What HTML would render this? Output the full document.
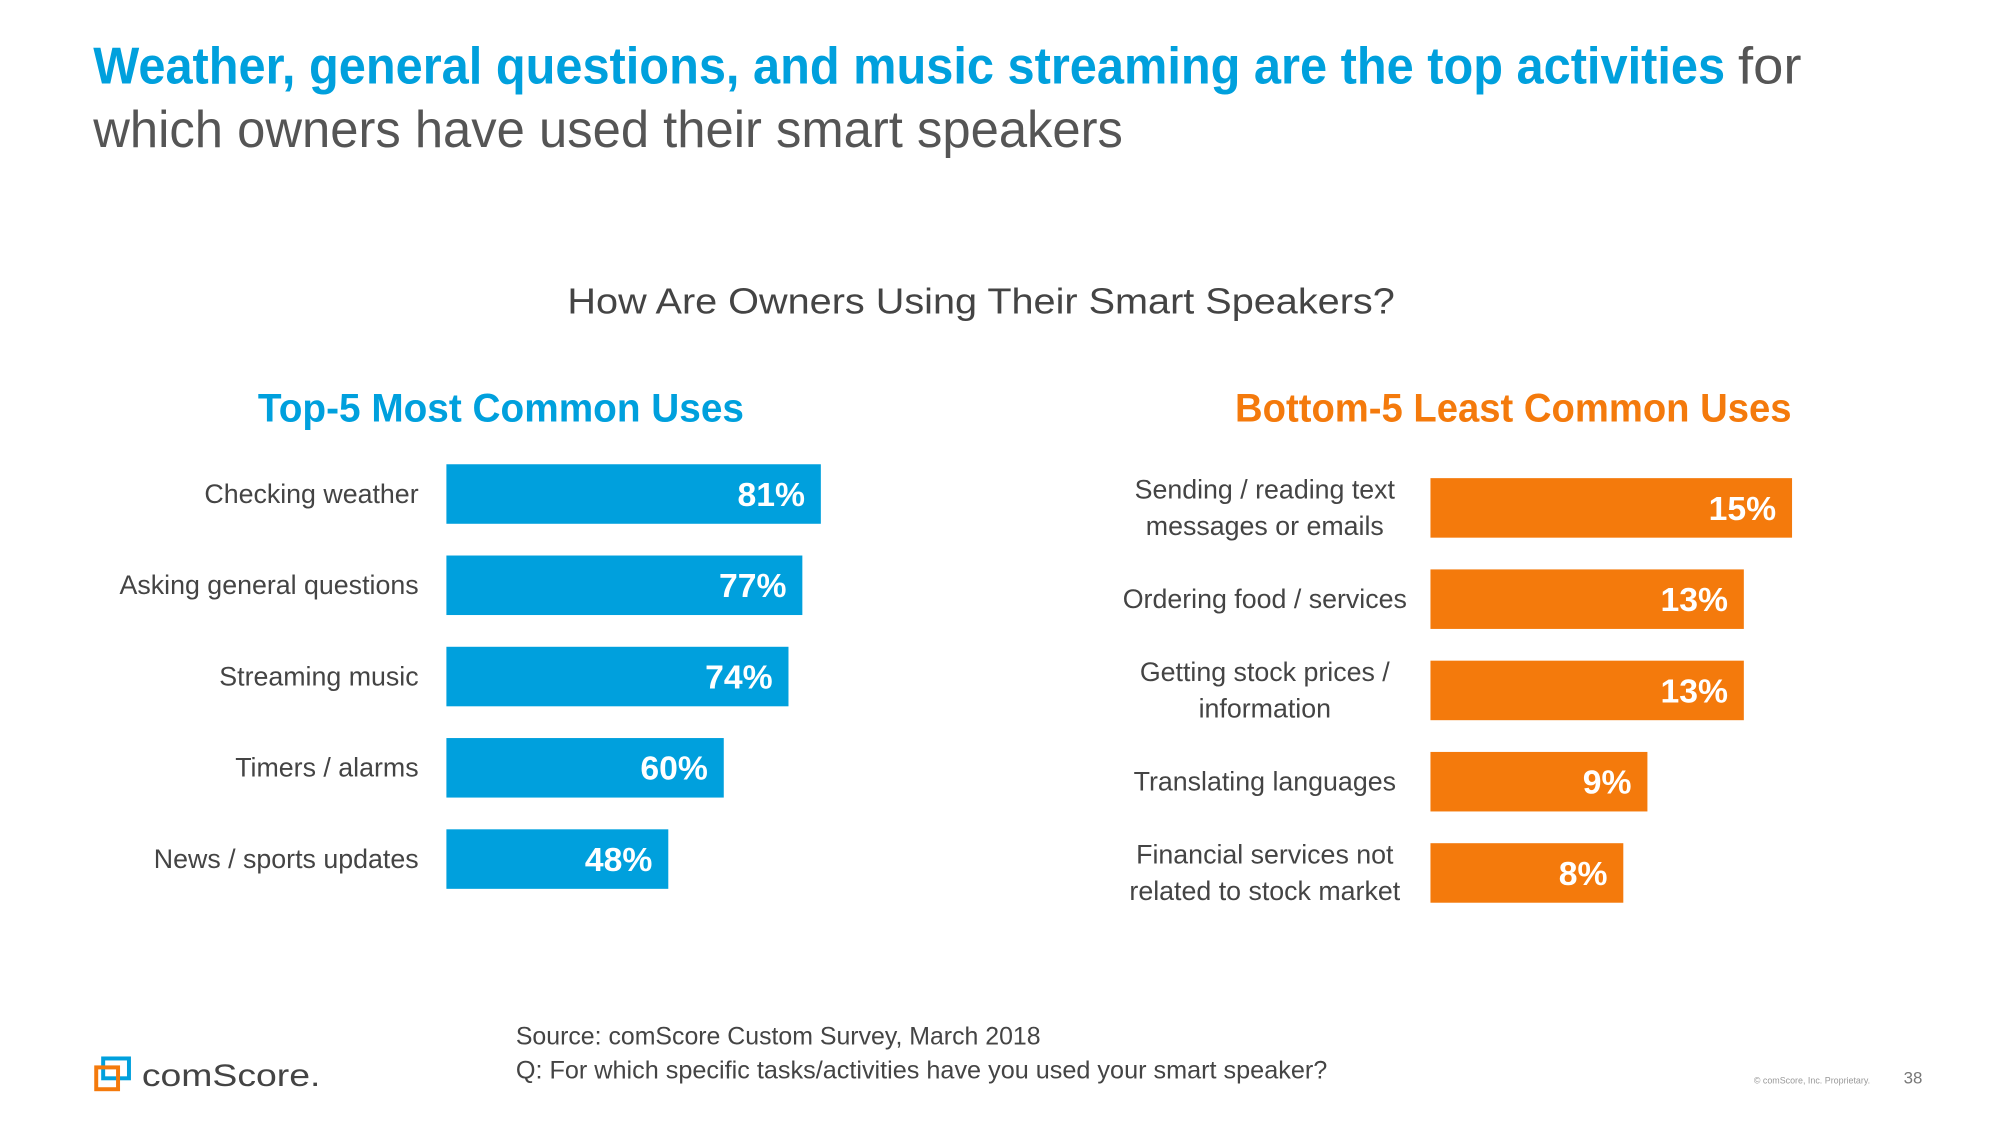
<!DOCTYPE html>
<html><head><meta charset="utf-8"><style>
html,body{margin:0;padding:0;background:#fff;}
svg{display:block;font-family:"Liberation Sans",sans-serif;}
</style></head><body>
<svg id="chart" width="2000" height="1125" viewBox="0 0 2000 1125">
 <g transform="scale(0.992)">
  <text x="94" y="84" font-size="52" font-weight="bold" fill="#00a0dd" textLength="1645" lengthAdjust="spacingAndGlyphs">Weather, general questions, and music streaming are the top activities</text>
  <text x="1752" y="84" font-size="52" fill="#555" textLength="64" lengthAdjust="spacingAndGlyphs">for</text>
  <text x="94" y="148" font-size="52" fill="#555" textLength="1038" lengthAdjust="spacingAndGlyphs">which owners have used their smart speakers</text>
  <text x="572" y="316" font-size="36" fill="#444" textLength="834" lengthAdjust="spacingAndGlyphs">How Are Owners Using Their Smart Speakers?</text>
  <text x="260" y="425" font-size="40" font-weight="bold" fill="#00a0dd" textLength="490" lengthAdjust="spacingAndGlyphs">Top-5 Most Common Uses</text>
  <text x="1245" y="425" font-size="40" font-weight="bold" fill="#f47a0c" textLength="561" lengthAdjust="spacingAndGlyphs">Bottom-5 Least Common Uses</text>
  <g id="left"></g>
  <g id="right"></g>
  <text x="520" y="1053" font-size="25" fill="#444" textLength="529" lengthAdjust="spacingAndGlyphs">Source: comScore Custom Survey, March 2018</text>
  <text x="520" y="1087" font-size="25" fill="#444" textLength="818" lengthAdjust="spacingAndGlyphs">Q: For which specific tasks/activities have you used your smart speaker?</text>
  <g>
    <rect x="104" y="1067" width="26" height="20" fill="none" stroke="#00a0dd" stroke-width="4"/>
    <rect x="97" y="1076" width="22" height="22" fill="none" stroke="#f47a0c" stroke-width="4"/>
    <text x="143" y="1095" font-size="32" fill="#444" textLength="180" lengthAdjust="spacingAndGlyphs">comScore.</text>
  </g>
  <text x="1768" y="1092" font-size="9" fill="#999">© comScore, Inc. Proprietary.</text>
  <text x="1919" y="1092" font-size="17" fill="#777">38</text>
 </g>
</svg>
<script>
const leftCategories = ["Checking weather","Asking general questions","Streaming music","Timers / alarms","News / sports updates"];
const leftValues = [81,77,74,60,48];
const rightCategories = [["Sending / reading text","messages or emails"],["Ordering food / services"],["Getting stock prices /","information"],["Translating languages"],["Financial services not","related to stock market"]];
const rightValues = [15,13,13,9,8];

const NS="http://www.w3.org/2000/svg";
function mk(tag,attrs,parent){const e=document.createElementNS(NS,tag);for(const k in attrs)e.setAttribute(k,attrs[k]);parent.appendChild(e);return e;}

function drawPanel(g,cats,vals,opt){
  const xScale=v=>opt.x0+v*opt.pxPer;
  const yBand=i=>opt.y0+i*opt.step;
  cats.forEach((c,i)=>{
    const y=yBand(i), w=xScale(vals[i])-opt.x0;
    const r=mk('rect',{x:opt.x0,y:y,width:w,height:opt.h,fill:opt.color},g);
    
    
    const t=mk('text',{x:xScale(vals[i])-16,y:y+opt.h/2+12,'font-size':34,'font-weight':'bold',fill:'#fff','text-anchor':'end'},g);
    t.textContent=vals[i]+'%';
    
    
    const lines=Array.isArray(c)?c:[c];
    const cy=y+opt.h/2;
    lines.forEach((ln,j)=>{
      const off=(j-(lines.length-1)/2)*37;
      const lt=mk('text',{x:opt.labelX,y:cy+off+9,'font-size':27,fill:'#444','text-anchor':opt.anchor},g);
      lt.textContent=ln;
      
      
    });
  });
}
drawPanel(document.getElementById('left'),leftCategories,leftValues,{x0:450,pxPer:4.66,y0:468,step:92,h:60,color:'#00a0dd',labelX:422,anchor:'end',prefix:'top'});
drawPanel(document.getElementById('right'),rightCategories,rightValues,{x0:1442,pxPer:24.3,y0:482,step:92,h:60,color:'#f47a0c',labelX:1275,anchor:'middle',prefix:'bottom'});
</script>
</body></html>
